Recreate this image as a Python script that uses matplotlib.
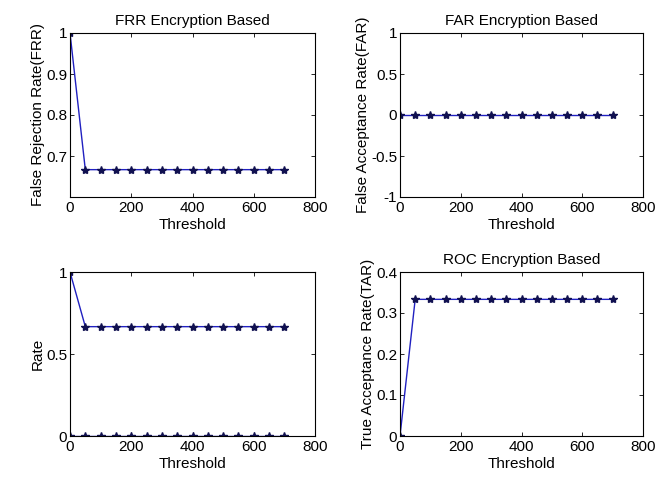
import matplotlib.pyplot as plt

threshold = [0, 50, 100, 150, 200, 250, 300, 350, 400, 450, 500, 550, 600, 650, 700]
frr = [1.0] + [0.6667] * 14
far = [0.0] * 15
tar = [0.0] + [0.3333] * 14

x_ticks = [0, 200, 400, 600, 800]

plt.rcParams['font.family'] = ['Liberation Sans', 'DejaVu Sans']
plt.rcParams['font.size'] = 11

line_color = '#2020c0'
marker_color = '#101050'

fig = plt.figure(figsize=(6.56, 4.79), dpi=100)
W, H = 656.0, 479.0


def make_axes(left, top, right, bottom):
    ax = fig.add_axes([left / W, 1 - bottom / H, (right - left) / W, (bottom - top) / H])
    ax.tick_params(direction='in', top=True, right=True, length=3, width=0.6, labelsize=11, pad=2)
    ax.tick_params(axis='x', pad=3)
    for s in ax.spines.values():
        s.set_linewidth(0.8)
    ax.set_xlim(0, 800)
    ax.set_xticks(x_ticks)
    ax.set_xlabel('Threshold', labelpad=2)
    return ax


def draw(ax, y):
    ax.plot(threshold, y, '-', color=line_color, lw=1.0, marker='*', ms=6,
            mfc=marker_color, mec=marker_color)


ax1 = make_axes(70, 33, 315, 197)
draw(ax1, frr)
ax1.set_ylim(0.6, 1.0)
ax1.set_yticks([0.6, 0.7, 0.8, 0.9, 1.0])
ax1.set_yticklabels(['', '0.7', '0.8', '0.9', '1'])
ax1.set_ylabel('False Rejection Rate(FRR)', labelpad=1)
ax1.set_title('FRR Encryption Based', fontsize=11, pad=6)

ax2 = make_axes(400, 33, 643, 197)
draw(ax2, far)
ax2.set_ylim(-1, 1)
ax2.set_yticks([-1, -0.5, 0, 0.5, 1])
ax2.set_yticklabels(['-1', '-0.5', '0', '0.5', '1'])
ax2.set_ylabel('False Acceptance Rate(FAR)', labelpad=1)
ax2.set_title('FAR Encryption Based', fontsize=11, pad=6)

ax3 = make_axes(70, 272, 315, 436)
draw(ax3, frr)
draw(ax3, far)
ax3.set_ylim(0, 1)
ax3.set_yticks([0, 0.5, 1])
ax3.set_yticklabels(['0', '0.5', '1'])
ax3.set_ylabel('Rate', labelpad=1)

ax4 = make_axes(400, 272, 643, 436)
draw(ax4, tar)
ax4.set_ylim(0, 0.4)
ax4.set_yticks([0, 0.1, 0.2, 0.3, 0.4])
ax4.set_yticklabels(['0', '0.1', '0.2', '0.3', '0.4'])
ax4.set_ylabel('True Acceptance Rate(TAR)', labelpad=1)
ax4.set_title('ROC Encryption Based', fontsize=11, pad=6)

for ax in (ax1, ax2, ax3, ax4):
    ax.set_xticklabels([str(t) for t in x_ticks])

fig.savefig('out.png', dpi=100)
